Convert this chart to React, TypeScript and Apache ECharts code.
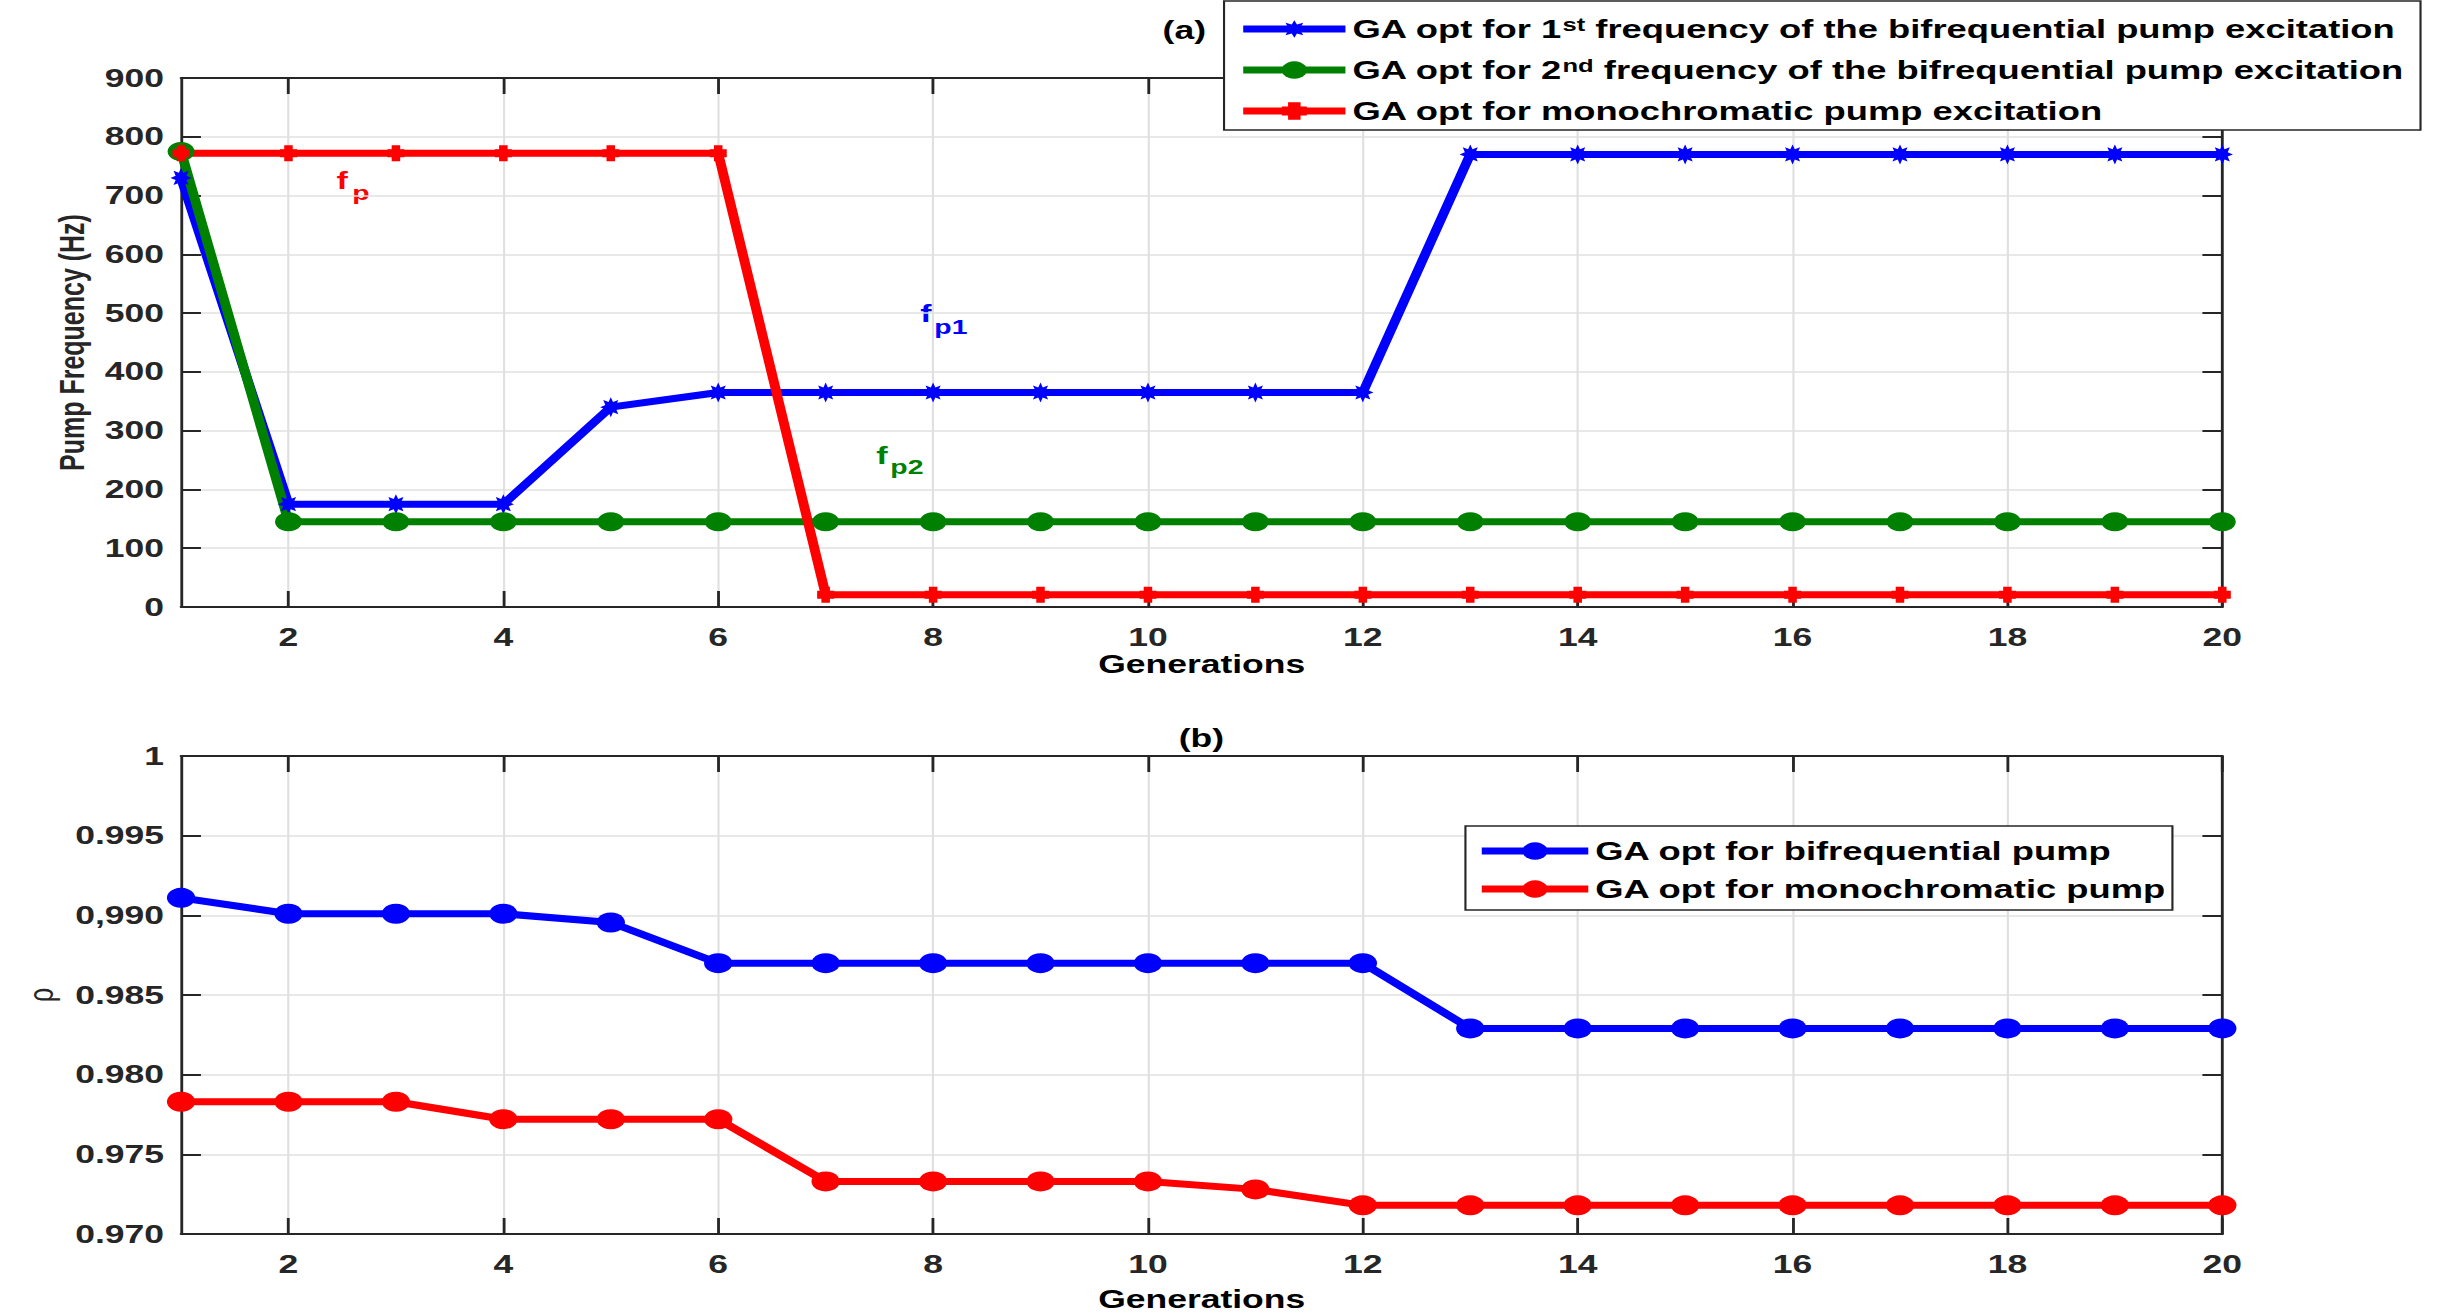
import React, { useEffect, useRef } from "react";
import * as echarts from "echarts";

const generations = [1, 2, 3, 4, 5, 6, 7, 8, 9, 10, 11, 12, 13, 14, 15, 16, 17, 18, 19, 20];
const xTicks = [2, 4, 6, 8, 10, 12, 14, 16, 18, 20];

const fp1 = [730, 175, 175, 175, 340, 365, 365, 365, 365, 365, 365, 365, 770, 770, 770, 770, 770, 770, 770, 770];
const fp2 = [775, 145, 145, 145, 145, 145, 145, 145, 145, 145, 145, 145, 145, 145, 145, 145, 145, 145, 145, 145];
const fpMono = [772, 772, 772, 772, 772, 772, 21, 21, 21, 21, 21, 21, 21, 21, 21, 21, 21, 21, 21, 21];

const rhoBi = [0.9911, 0.9901, 0.9901, 0.9901, 0.98955, 0.987, 0.987, 0.987, 0.987, 0.987, 0.987, 0.987, 0.9829, 0.9829, 0.9829, 0.9829, 0.9829, 0.9829, 0.9829, 0.9829];
const rhoMono = [0.9783, 0.9783, 0.9783, 0.9772, 0.9772, 0.9772, 0.9733, 0.9733, 0.9733, 0.9733, 0.9728, 0.9718, 0.9718, 0.9718, 0.9718, 0.9718, 0.9718, 0.9718, 0.9718, 0.9718];

const rhoTickLabels = ["0.970", "0.975", "0.980", "0.985", "0,990", "0.995", "1"];

const namesTop = [
  "GA opt for 1st frequency of the bifrequential pump excitation",
  "GA opt for 2nd frequency of the bifrequential pump excitation",
  "GA opt for monochromatic pump excitation",
];
const namesBottom = ["GA opt for bifrequential pump", "GA opt for monochromatic pump"];

const S = 1.42;
const W = 1732;
const H = 1313;
const FONT = "'Liberation Sans', Arial, Helvetica, sans-serif";
const AX = "#262626";
const BLUE = "#0000ff";
const GREEN = "#008000";
const RED = "#ff0000";
const PLUS = "path://M3,0H9V3H12V9H9V12H3V9H0V3H3Z";

function starPath() {
  const pts: string[] = [];
  for (let k = 0; k < 16; k++) {
    const a = (k * Math.PI) / 8 - Math.PI / 2;
    const r = k % 2 === 0 ? 10 : 5.5;
    pts.push(`${(10 + r * Math.cos(a)).toFixed(2)},${(10 + r * Math.sin(a)).toFixed(2)}`);
  }
  return "path://M" + pts.join("L") + "Z";
}
const STAR = starPath();

const zip = (ys: number[]) => generations.map((g, i) => [g, ys[i]]);

const labelStyle = { fontSize: 25, fontWeight: "bold", color: AX, fontFamily: FONT };

function xAxes(grid: number, labelMargin: number, nameGap: number) {
  return [
    {
      type: "value",
      gridIndex: grid,
      min: 1,
      max: 20,
      position: "bottom",
      axisLine: { show: true, onZero: false, lineStyle: { color: AX, width: 2 } },
      axisTick: { show: true, inside: true, length: 16, customValues: xTicks, lineStyle: { color: AX, width: 2 } },
      axisLabel: { ...labelStyle, customValues: xTicks, margin: labelMargin },
      splitLine: { show: true, lineStyle: { color: "#e0e0e0", width: 1.5 } },
      name: "Generations",
      nameLocation: "middle",
      nameGap,
      nameTextStyle: { fontSize: 25, fontWeight: "bold", color: "#000", fontFamily: FONT },
    },
    {
      type: "value",
      gridIndex: grid,
      min: 1,
      max: 20,
      position: "top",
      axisLine: { show: true, onZero: false, lineStyle: { color: AX, width: 2 } },
      axisTick: { show: true, inside: true, length: 16, customValues: xTicks, lineStyle: { color: AX, width: 2 } },
      axisLabel: { show: false },
      splitLine: { show: false },
    },
  ];
}

function yAxes(grid: number, min: number, max: number, interval: number, fmt: (v: number) => string, name: string, nameGap: number, nameBold: boolean) {
  return [
    {
      type: "value",
      gridIndex: grid,
      min,
      max,
      interval,
      position: "left",
      axisLine: { show: true, onZero: false, lineStyle: { color: AX, width: 2 } },
      axisTick: { show: true, inside: true, length: 14, lineStyle: { color: AX, width: 2 } },
      axisLabel: { ...labelStyle, margin: 12, formatter: fmt },
      splitLine: { show: true, lineStyle: { color: "#e0e0e0", width: 1.5 } },
      name,
      nameLocation: "middle",
      nameGap,
      nameRotate: 90,
      nameTextStyle: { fontSize: 25, fontWeight: nameBold ? "bold" : "normal", color: AX, fontFamily: FONT },
    },
    {
      type: "value",
      gridIndex: grid,
      min,
      max,
      interval,
      position: "right",
      axisLine: { show: true, onZero: false, lineStyle: { color: AX, width: 2 } },
      axisTick: { show: true, inside: true, length: 14, lineStyle: { color: AX, width: 2 } },
      axisLabel: { show: false },
      splitLine: { show: false },
    },
  ];
}

function subText(fx: number, fy: number, sx: number, sy: number, sub: string, color: string) {
  return [
    { type: "text", x: fx, y: fy, style: { text: "f", fill: color, font: `bold 24px ${FONT}`, verticalAlign: "middle", align: "left" } },
    { type: "text", x: sx, y: sy, style: { text: sub, fill: color, font: `bold 20px ${FONT}`, verticalAlign: "middle", align: "left" } },
  ];
}

export default function App() {
  const ref = useRef<HTMLDivElement>(null);
  useEffect(() => {
    if (!ref.current) return;
    const chart = echarts.init(ref.current, undefined, { renderer: "svg", width: W, height: H });
    const legendText = {
      fontSize: 25.6,
      fontWeight: "bold",
      color: "#000",
      fontFamily: FONT,
      rich: {
        sup: { fontSize: 18, fontWeight: "bold", color: "#000", fontFamily: FONT, verticalAlign: "top", lineHeight: 16 },
      },
    };
    const option = {
      animation: false,
      backgroundColor: "#fff",
      grid: [
        { left: 127.5, right: W - 1565, top: 78, height: 529 },
        { left: 127.5, right: W - 1565, top: 756, height: 489 },
      ],
      xAxis: [...xAxes(0, 18, 45), ...xAxes(1, 18, 53)],
      yAxis: [
        ...yAxes(0, 0, 900, 100, (v: number) => String(v), "Pump Frequency (Hz)", 64, true),
        ...yAxes(1, 0.97, 1, 0.005, (v: number) => rhoTickLabels[Math.round((v - 0.97) / 0.005)] ?? "", "ρ", 86, false),
      ],
      legend: [
        {
          data: namesTop,
          orient: "vertical",
          left: 862,
          top: 1,
          itemWidth: 72,
          itemHeight: 22,
          itemGap: 15,
          padding: [15, 12, 6, 10],
          backgroundColor: "#fff",
          borderColor: AX,
          borderWidth: 1.5,
          borderRadius: 0,
          lineStyle: { width: 7 },
          textStyle: legendText,
          formatter: (n: string) => {
            if (n === namesTop[0]) return "GA opt for 1{sup|st} frequency of the bifrequential pump excitation";
            if (n === namesTop[1]) return "GA opt for 2{sup|nd} frequency of the bifrequential pump excitation";
            return n;
          },
        },
        {
          data: namesBottom,
          orient: "vertical",
          left: 1032,
          top: 826,
          itemWidth: 75,
          itemHeight: 22,
          itemGap: 12,
          padding: [12, 4, 8, 8],
          backgroundColor: "#fff",
          borderColor: AX,
          borderWidth: 1.5,
          borderRadius: 0,
          lineStyle: { width: 7 },
          textStyle: { fontSize: 25.6, fontWeight: "bold", color: "#000", fontFamily: FONT },
        },
      ],
      series: [
        {
          name: namesTop[0],
          type: "line",
          xAxisIndex: 0,
          yAxisIndex: 0,
          data: zip(fp1),
          symbol: STAR,
          symbolSize: [15, 20],
          lineStyle: { color: BLUE, width: 7 },
          itemStyle: { color: BLUE },
        },
        {
          name: namesTop[1],
          type: "line",
          xAxisIndex: 0,
          yAxisIndex: 0,
          data: zip(fp2),
          symbol: "circle",
          symbolSize: 19,
          lineStyle: { color: GREEN, width: 7 },
          itemStyle: { color: GREEN },
        },
        {
          name: namesTop[2],
          type: "line",
          xAxisIndex: 0,
          yAxisIndex: 0,
          data: zip(fpMono),
          symbol: PLUS,
          symbolSize: [12, 16],
          lineStyle: { color: RED, width: 7 },
          itemStyle: { color: RED },
        },
        {
          name: namesBottom[0],
          type: "line",
          xAxisIndex: 2,
          yAxisIndex: 2,
          data: zip(rhoBi),
          symbol: "circle",
          symbolSize: 20,
          lineStyle: { color: BLUE, width: 7 },
          itemStyle: { color: BLUE },
        },
        {
          name: namesBottom[1],
          type: "line",
          xAxisIndex: 2,
          yAxisIndex: 2,
          data: zip(rhoMono),
          symbol: "circle",
          symbolSize: 20,
          lineStyle: { color: RED, width: 7 },
          itemStyle: { color: RED },
        },
      ],
      graphic: [
        { type: "text", x: 834, y: 30, style: { text: "(a)", fill: "#000", font: `bold 25px ${FONT}`, align: "center", verticalAlign: "middle" } },
        { type: "text", x: 846, y: 738, style: { text: "(b)", fill: "#000", font: `bold 25px ${FONT}`, align: "center", verticalAlign: "middle" } },
        ...subText(237, 180, 248, 193, "p", RED),
        ...subText(648, 313, 658, 327, "p1", BLUE),
        ...subText(617, 455, 627, 467, "p2", GREEN),
      ],
    };
    chart.setOption(option as any);
    return () => chart.dispose();
  }, []);
  return (
    <div style={{ position: "fixed", left: 0, top: 0, width: 2459, height: H, overflow: "hidden", background: "#fff" }}>
      <div
        ref={ref}
        style={{ width: W, height: H, transform: `scaleX(${S})`, transformOrigin: "0 0" }}
      />
    </div>
  );
}
